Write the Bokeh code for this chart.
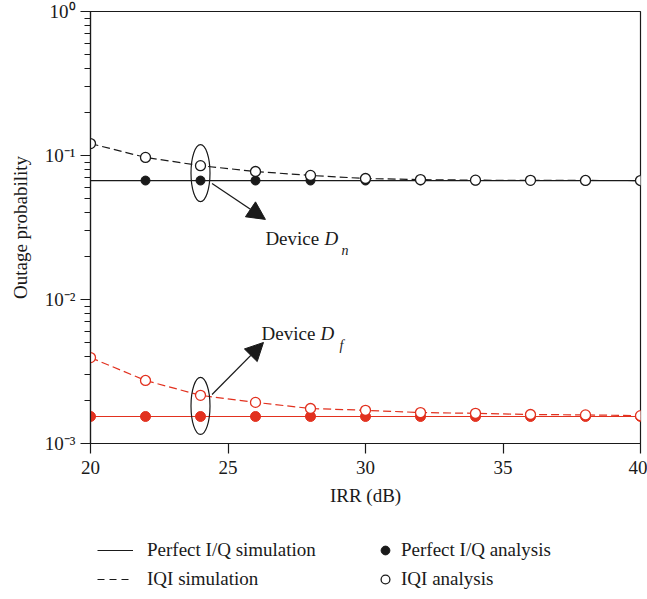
from bokeh.plotting import figure
from bokeh.layouts import column
from bokeh.models import (Range1d, FixedTicker, Legend, LegendItem, Label, Arrow,
                          NormalHead, CustomJSTickFormatter, LogTicker)
from bokeh.embed import file_html
from bokeh.resources import INLINE

# ---------------- data ----------------
irr = [20, 22, 24, 26, 28, 30, 32, 34, 36, 38, 40]

dn_perfect_sim = [0.067, 0.067, 0.067, 0.067, 0.067, 0.067, 0.067, 0.067, 0.067, 0.067, 0.067]
dn_iqi_sim = [0.121, 0.097, 0.085, 0.0774, 0.0727, 0.0692, 0.068, 0.0674, 0.0672, 0.0671, 0.067]
dn_perfect_ana_x = [22, 24, 26, 28, 30, 32, 34, 36, 38, 40]
dn_perfect_ana = [0.067, 0.067, 0.067, 0.067, 0.067, 0.067, 0.067, 0.067, 0.067, 0.067]
dn_iqi_ana = [0.121, 0.097, 0.085, 0.0774, 0.0727, 0.0692, 0.068, 0.0674, 0.0672, 0.0671, 0.067]

df_perfect_sim = [0.00154, 0.00154, 0.00154, 0.00154, 0.00154, 0.00154, 0.00154, 0.00154, 0.00154, 0.00154, 0.00154]
df_iqi_sim = [0.00395, 0.00274, 0.00216, 0.00193, 0.00175, 0.0017, 0.00164, 0.00162, 0.00159, 0.00158, 0.00156]
df_perfect_ana = [0.00154, 0.00154, 0.00154, 0.00154, 0.00154, 0.00154, 0.00154, 0.00154, 0.00154, 0.00154, 0.00154]
df_iqi_ana = [0.00395, 0.00274, 0.00216, 0.00193, 0.00175, 0.0017, 0.00164, 0.00162, 0.00159, 0.00158, 0.00156]

x_ticks = [20, 25, 30, 35, 40]
y_ticks = [0.001, 0.01, 0.1, 1.0]
y_tick_labels = ["10\u207b\u00b3", "10\u207b\u00b2", "10\u207b\u00b9", "10\u2070"]

legend_labels = ["Perfect I/Q simulation", "IQI simulation", "Perfect I/Q analysis", "IQI analysis"]

# ---------------- style ----------------
FONT = "Liberation Serif"
FS = "19px"
RED = "#e2311f"
BLACK = "#1a1a1a"

p = figure(width=647, height=515, output_backend="svg", toolbar_location=None,
           y_axis_type="log", x_range=Range1d(20, 40), y_range=Range1d(1e-3, 1.0),
           min_border_left=90, min_border_right=7, min_border_top=11, min_border_bottom=72)

p.outline_line_color = BLACK
p.outline_line_width = 1.2
p.xgrid.visible = False
p.ygrid.visible = False
p.background_fill_color = "white"
p.border_fill_color = "white"

# axes
xa = p.xaxis[0]
xa.ticker = FixedTicker(ticks=x_ticks, minor_ticks=[])
xa.axis_label = "IRR (dB)"
ya = p.yaxis[0]
ya.ticker = LogTicker(num_minor_ticks=10)
ya.axis_label = "Outage probability"
ya.formatter = CustomJSTickFormatter(args=dict(vals=y_ticks, labs=y_tick_labels), code="""
for (let i = 0; i < vals.length; i++) {
  if (Math.abs(Math.log10(tick) - Math.log10(vals[i])) < 1e-6) return labs[i];
}
return '';
""")
for ax in (xa, ya):
    ax.axis_line_color = BLACK
    ax.axis_line_width = 1.2
    ax.major_tick_line_color = BLACK
    ax.minor_tick_line_color = BLACK
    ax.major_tick_line_width = 1.2
    ax.minor_tick_line_width = 1.2
    ax.major_tick_in = 0
    ax.major_tick_out = 10
    ax.minor_tick_in = 0
    ax.minor_tick_out = 6
    ax.major_label_text_font = FONT
    ax.major_label_text_font_size = FS
    ax.major_label_text_color = BLACK
    ax.axis_label_text_font = FONT
    ax.axis_label_text_font_size = FS
    ax.axis_label_text_font_style = "normal"
    ax.axis_label_text_color = BLACK
xa.major_label_standoff = 7
xa.axis_label_standoff = 8
ya.major_label_standoff = 5
ya.axis_label_standoff = 11

# ---------------- series ----------------
DASH = "8 4"
p.line(irr, dn_perfect_sim, line_color=BLACK, line_width=1.2)
p.line(irr, dn_iqi_sim, line_color=BLACK, line_width=1.2, line_dash=DASH)
p.line(irr, df_perfect_sim, line_color=RED, line_width=1.2)
p.line(irr, df_iqi_sim, line_color=RED, line_width=1.2, line_dash=DASH)

p.scatter(dn_perfect_ana_x, dn_perfect_ana, size=9, marker="circle",
          fill_color=BLACK, line_color=BLACK)
p.scatter(irr, df_perfect_ana, size=10, marker="circle", fill_color=RED, line_color=RED)
p.scatter(irr, dn_iqi_ana, size=10, marker="circle", fill_color="white",
          line_color=BLACK, line_width=1.3)
p.scatter(irr, df_iqi_ana, size=10, marker="circle", fill_color="white",
          line_color=RED, line_width=1.3)

# ---------------- annotations ----------------
# ellipses around the 24 dB points (centre = geometric mean of the pair)
k = 2
dn_c = (dn_iqi_ana[k] * dn_perfect_ana[k - 1]) ** 0.5
df_c = (df_iqi_ana[k] * df_perfect_ana[k]) ** 0.5
p.ellipse(x=[irr[k], irr[k]], y=[dn_c, df_c], width=19, height=57,
          width_units="screen", height_units="screen",
          fill_color=None, line_color=BLACK, line_width=1.2)

p.add_layout(Arrow(end=NormalHead(size=18, fill_color=BLACK, line_color=BLACK),
                   x_start=24.42, y_start=0.064, x_end=26.36, y_end=0.036,
                   line_color=BLACK, line_width=1.2))
p.add_layout(Arrow(end=NormalHead(size=18, fill_color=BLACK, line_color=BLACK),
                   x_start=24.42, y_start=0.00219, x_end=26.29, y_end=0.00503,
                   line_color=BLACK, line_width=1.2))

def device_label(x, y, sub, sub_dx):
    common = dict(x=x, y=y, text_font=FONT, text_color=BLACK,
                  text_baseline="alphabetic", text_align="left")
    p.add_layout(Label(text="Device", text_font_size=FS, **common))
    p.add_layout(Label(text="D", text_font_size=FS, text_font_style="italic",
                       x_offset=59, **common))
    p.add_layout(Label(text=sub, text_font_size="14px", text_font_style="italic",
                       x_offset=sub_dx, y_offset=-12, **common))

device_label(26.36, 0.0265, "n", 76)
device_label(26.22, 0.0058, "f", 78)

# ---------------- legend (separate strip below the chart) ----------------
lg_fig = figure(width=647, height=84, output_backend="svg", toolbar_location=None,
                x_range=Range1d(0, 1), y_range=Range1d(0, 1),
                min_border_left=90, min_border_right=7, min_border_top=0, min_border_bottom=0)
lg_fig.axis.visible = False
lg_fig.grid.visible = False
lg_fig.outline_line_color = None
lg_fig.background_fill_color = "white"
lg_fig.border_fill_color = "white"

# legend proxies (outside the visible range)
r_sim = lg_fig.line([-1, -2], [-1, -2], line_color=BLACK, line_width=1.2)
r_iqi = lg_fig.line([-1, -2], [-1, -2], line_color=BLACK, line_width=1.2, line_dash="7 5")
r_pa = lg_fig.scatter([-1], [-1], size=10, marker="circle", fill_color=BLACK, line_color=BLACK)
r_ia = lg_fig.scatter([-1], [-1], size=10, marker="circle", fill_color="white",
                      line_color=BLACK, line_width=1.3)

leg1 = Legend(items=[LegendItem(label=legend_labels[0], renderers=[r_sim]),
                     LegendItem(label=legend_labels[1], renderers=[r_iqi])],
              location=(7, 9))
leg2 = Legend(items=[LegendItem(label=legend_labels[2], renderers=[r_pa]),
                     LegendItem(label=legend_labels[3], renderers=[r_ia])],
              location=(284, 9))
for lg, gw, gh, st, sp in ((leg1, 36, 20, 14, 7), (leg2, 22, 22, 5, 7)):
    lg.glyph_width = gw
    lg.glyph_height = gh
    lg.label_height = 20
    lg.label_standoff = st
    lg.spacing = sp
    lg.padding = 0
    lg.margin = 0
    lg.border_line_color = None
    lg.background_fill_alpha = 0
    lg.label_text_font = FONT
    lg.label_text_font_size = FS
    lg.label_text_color = BLACK
    lg_fig.add_layout(lg, "center")

layout = column(p, lg_fig, spacing=0)
open("out.html", "w").write(file_html(layout, INLINE))
